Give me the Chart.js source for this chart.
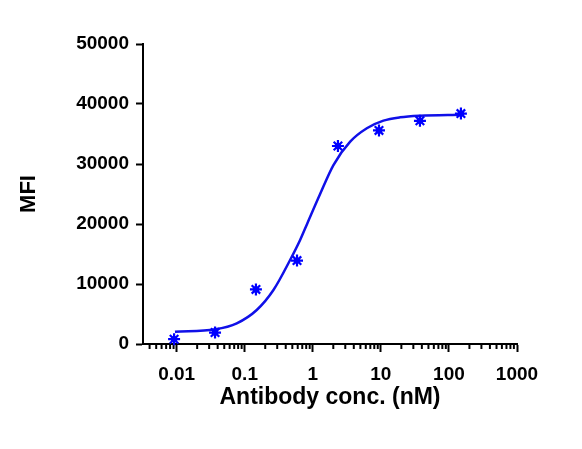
<!DOCTYPE html>
<html>
<head>
<meta charset="utf-8">
<script src="https://cdn.jsdelivr.net/npm/chart.js@4.4.1/dist/chart.umd.min.js"></script>
<style>
  html, body { margin: 0; padding: 0; background: #ffffff; }
  #wrap { width: 582px; height: 449px; }
</style>
</head>
<body>
<div id="wrap"><canvas id="c" width="582" height="449"></canvas></div>
<script>
// ---- data ----
const concentrations = [0.00916, 0.0366, 0.146, 0.586, 2.34, 9.38, 37.5, 150];
const mfiValues      = [800, 1900, 9100, 13900, 33000, 35600, 37200, 38400];

// fitted curve
const curveX = [0.00944, 0.0366, 0.0763, 0.150, 0.264, 0.464, 0.651, 0.83, 1.28, 2.01, 3.54, 6.22, 10.9, 19.2, 37.8, 153];
const curveY = [2050, 2450, 3450, 5670, 9000, 14000, 17330, 20100, 25000, 29830, 33720, 35950, 37220, 37780, 38050, 38220];

// axis ticks
const xMajorTicks = [0.01, 0.1, 1, 10, 100, 1000];
const xTickLabels = ['0.01', '0.1', '1', '10', '100', '1000'];
const xMinorMultipliers = [2, 3, 4, 5, 6, 7, 8, 9];
const yTickValues = [0, 10000, 20000, 30000, 40000, 50000];
const yTickLabels = ['0', '10000', '20000', '30000', '40000', '50000'];

const X_MIN = 0.0032, X_MAX = 1000;

const FONT = "'Liberation Sans', Arial, sans-serif";
const BLUE = '#0000ff';
const LINE_BLUE = '#1010e8';

// build tick list (majors + minors in range)
const xAllTicks = [];
xMajorTicks.forEach((m) => {
  xAllTicks.push({ value: m, major: true });
  xMinorMultipliers.forEach((k) => {
    const v = +(m * k / 10).toPrecision(3);
    if (v > X_MIN && v < X_MAX) xAllTicks.push({ value: v, major: false });
  });
});
xAllTicks.sort((a, b) => a.value - b.value);

const pointData = concentrations.map((x, i) => ({ x, y: mfiValues[i] }));
const curveData = curveX.map((x, i) => ({ x, y: curveY[i] }));

const minorTickPlugin = {
  id: 'minorTicks',
  beforeDatasetsDraw(chart) {
    const xs = chart.scales.x;
    const ctx = chart.ctx;
    ctx.save();
    ctx.strokeStyle = '#000';
    ctx.lineWidth = 2;
    const y0 = chart.chartArea.bottom;
    xs.ticks.forEach((t) => {
      if (t.major) return;
      const px = xs.getPixelForValue(t.value);
      ctx.beginPath();
      ctx.moveTo(px, y0);
      ctx.lineTo(px, y0 + 5);
      ctx.stroke();
    });
    ctx.restore();
  }
};

new Chart(document.getElementById('c'), {
  type: 'scatter',
  data: {
    datasets: [
      {
        label: 'fit',
        data: curveData,
        showLine: true,
        borderColor: LINE_BLUE,
        borderWidth: 2.5,
        pointRadius: 0,
        pointHoverRadius: 0,
        cubicInterpolationMode: 'monotone',
        fill: false,
        order: 3
      },
      {
        label: 'MFI',
        data: pointData,
        showLine: false,
        pointStyle: 'star',
        pointRadius: 6,
        pointBorderWidth: 2.2,
        borderColor: BLUE,
        backgroundColor: BLUE,
        clip: false,
        order: 2
      },
      {
        label: 'MFI core',
        data: pointData,
        showLine: false,
        pointStyle: 'circle',
        pointRadius: 3.2,
        pointBorderWidth: 0,
        borderColor: BLUE,
        backgroundColor: BLUE,
        clip: false,
        order: 1
      }
    ]
  },
  options: {
    responsive: false,
    animation: false,
    events: [],
    layout: { padding: { left: 0, right: 65, top: 44, bottom: 0 } },
    plugins: {
      legend: { display: false },
      tooltip: { enabled: false },
      title: { display: false }
    },
    scales: {
      x: {
        type: 'logarithmic',
        position: 'bottom',
        min: X_MIN,
        max: X_MAX,
        afterBuildTicks(scale) {
          scale.ticks = xAllTicks.map((t) => ({ value: t.value, major: t.major }));
        },
        afterFit(scale) { scale.height = 105; },
        grid: {
          drawOnChartArea: false,
          drawTicks: true,
          tickLength: 8,
          tickWidth: 2,
          tickColor: (ctx) => (ctx.tick && ctx.tick.major ? '#000' : 'rgba(0,0,0,0)')
        },
        border: { display: true, color: '#000', width: 2 },
        ticks: {
          autoSkip: false,
          maxRotation: 0,
          minRotation: 0,
          padding: 11,
          color: '#000',
          font: { family: FONT, size: 19, weight: 'bold' },
          callback: (value) => {
            const i = xMajorTicks.findIndex((m) => Math.abs(m - value) / m < 1e-6);
            return i >= 0 ? xTickLabels[i] : '';
          }
        },
        title: {
          display: true,
          text: 'Antibody conc. (nM)',
          color: '#000',
          font: { family: FONT, size: 23, weight: 'bold' },
          padding: { top: 0, bottom: 38 }
        }
      },
      y: {
        type: 'linear',
        position: 'left',
        min: 0,
        max: 50000,
        afterBuildTicks(scale) {
          scale.ticks = yTickValues.map((v) => ({ value: v }));
        },
        afterFit(scale) { scale.width = 143; },
        grid: {
          drawOnChartArea: false,
          drawTicks: true,
          tickLength: 7,
          tickWidth: 2,
          tickColor: '#000'
        },
        border: { display: true, color: '#000', width: 2 },
        ticks: {
          padding: 7,
          color: '#000',
          font: { family: FONT, size: 19, weight: 'bold' },
          callback: (value) => {
            const i = yTickValues.indexOf(value);
            return i >= 0 ? yTickLabels[i] : '';
          }
        },
        title: {
          display: true,
          text: 'MFI',
          color: '#000',
          font: { family: FONT, size: 22, weight: 'bold' },
          padding: { top: 16, bottom: 0 }
        }
      }
    }
  },
  plugins: [minorTickPlugin]
});
</script>
</body>
</html>
